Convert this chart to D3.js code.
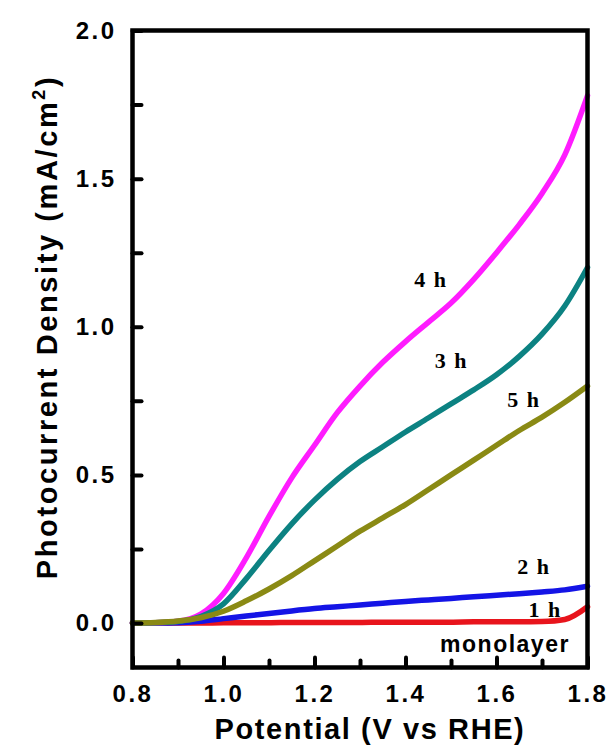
<html>
    <head>
        <title>Photocurrent</title>
        <style>
            body { margin: 0; background: #fff; }
        </style>
    </head>

    <body>
        <script src="https://d3js.org/d3.v7.min.js"></script>
        <script>
            // potential (V vs RHE)
            var potential = [0.80, 0.85, 0.90, 0.95, 1.00, 1.05, 1.10, 1.15, 1.20, 1.25, 1.30,
                             1.35, 1.40, 1.45, 1.50, 1.55, 1.60, 1.65, 1.70, 1.75, 1.80];

            // photocurrent density (mA/cm2)
            var j1h = [0, 0, 0, 0, 0.001, 0.001, 0.001, 0.002, 0.002, 0.002, 0.002,
                       0.003, 0.003, 0.003, 0.003, 0.004, 0.004, 0.004, 0.005, 0.012, 0.055];
            var j2h = [0, 0, 0.001, 0.006, 0.015, 0.024, 0.032, 0.041, 0.049, 0.055, 0.061,
                       0.067, 0.073, 0.078, 0.083, 0.089, 0.094, 0.099, 0.105, 0.112, 0.124];
            var j3h = [0, 0.001, 0.005, 0.022, 0.065, 0.15, 0.245, 0.335, 0.415, 0.485, 0.545,
                       0.595, 0.645, 0.692, 0.74, 0.787, 0.838, 0.90, 0.975, 1.07, 1.20];
            var j4h = [0, 0.001, 0.006, 0.03, 0.10, 0.22, 0.36, 0.49, 0.60, 0.71, 0.80,
                       0.88, 0.95, 1.015, 1.08, 1.16, 1.25, 1.345, 1.45, 1.58, 1.78];
            var j5h = [0, 0.002, 0.007, 0.018, 0.04, 0.075, 0.115, 0.16, 0.21, 0.26, 0.31,
                       0.355, 0.40, 0.45, 0.50, 0.55, 0.60, 0.65, 0.695, 0.745, 0.80];

            var seriesNames = ['1 h', '2 h', '4 h', '3 h', '5 h'];
            var seriesValues = [j1h, j2h, j4h, j3h, j5h];
            var seriesColors = ['#e8141c', '#1414e6', '#ff1cff', '#0c8282', '#8a8a14'];

            var xTicks = [0.8, 1.0, 1.2, 1.4, 1.6, 1.8];
            var xMinorTicks = [0.9, 1.1, 1.3, 1.5, 1.7];
            var yTicks = [0.0, 0.5, 1.0, 1.5, 2.0];
            var yMinorTicks = [0.25, 0.75, 1.25, 1.75];

            var curveLabels = [
                { text: '4 h', x: 1.456, y: 1.134 },
                { text: '3 h', x: 1.501, y: 0.861 },
                { text: '5 h', x: 1.66, y: 0.729 },
                { text: '2 h', x: 1.682, y: 0.165 },
                { text: '1 h', x: 1.707, y: 0.02 }
            ];

            var width = 612, height = 751;
            var plotLeft = 132.5, plotRight = 587.5, plotTop = 30.5, plotBottom = 667.5;

            var svg = d3.select('body')
                .append('svg')
                .attr('width', width)
                .attr('height', height);

            var x = d3.scaleLinear().domain([0.8, 1.8]).range([plotLeft, plotRight]);
            var y = d3.scaleLinear().domain([-0.15, 2.0]).range([plotBottom, plotTop]);

            // curves
            var line = d3.line()
                .x(function(d) { return x(d[0]); })
                .y(function(d) { return y(d[1]); })
                .curve(d3.curveMonotoneX);

            svg.selectAll('path.curve')
                .data(seriesValues)
                .enter()
                .append('path')
                .attr('class', 'curve')
                .attr('d', function(d) {
                    return line(potential.map(function(p, i) { return [p, d[i]]; }));
                })
                .style('fill', 'none')
                .style('stroke', function(d, i) { return seriesColors[i]; })
                .style('stroke-width', 5.5)
                .style('stroke-linecap', 'round');

            // axes
            svg.append('g')
                .attr('transform', 'translate(0,' + plotBottom + ')')
                .call(d3.axisBottom(x).tickValues(xTicks).tickSize(-10).tickPadding(17)
                    .tickFormat(d3.format('.1f')));
            svg.append('g')
                .attr('transform', 'translate(0,' + plotBottom + ')')
                .call(d3.axisBottom(x).tickValues(xMinorTicks).tickSize(-7).tickFormat(''));

            svg.append('g')
                .attr('transform', 'translate(' + plotLeft + ',0)')
                .call(d3.axisLeft(y).tickValues(yTicks).tickSize(-9).tickPadding(16)
                    .tickFormat(d3.format('.1f')));
            svg.append('g')
                .attr('transform', 'translate(' + plotLeft + ',0)')
                .call(d3.axisLeft(y).tickValues(yMinorTicks).tickSize(-9).tickFormat(''));

            svg.selectAll('.domain').remove();
            svg.selectAll('.tick line')
                .style('stroke', '#000')
                .style('stroke-width', 4)
                .style('stroke-linecap', 'round');
            svg.selectAll('.tick text')
                .style('font-family', 'Liberation Sans, Arial, sans-serif')
                .style('font-weight', 'bold')
                .style('font-size', '24px')
                .style('letter-spacing', '2.5px')
                .style('fill', '#000');

            // frame
            svg.append('rect')
                .attr('x', plotLeft)
                .attr('y', plotTop)
                .attr('width', plotRight - plotLeft)
                .attr('height', plotBottom - plotTop)
                .style('fill', 'none')
                .style('stroke', '#000')
                .style('stroke-width', 4.5);

            // axis titles
            svg.append('text')
                .attr('x', 370)
                .attr('y', 739)
                .attr('text-anchor', 'middle')
                .style('font-family', 'Liberation Sans, Arial, sans-serif')
                .style('font-weight', 'bold')
                .style('font-size', '29px')
                .style('letter-spacing', '1.6px')
                .text('Potential (V vs RHE)');

            var yTitle = svg.append('text')
                .attr('transform', 'translate(57,327) rotate(-90)')
                .attr('text-anchor', 'middle')
                .style('font-family', 'Liberation Sans, Arial, sans-serif')
                .style('font-weight', 'bold')
                .style('font-size', '29px')
                .style('letter-spacing', '2.6px');
            yTitle.append('tspan').text('Photocurrent Density (mA/cm');
            yTitle.append('tspan').attr('dy', -12).style('font-size', '18px').text('2');
            yTitle.append('tspan').attr('dy', 12).text(')');

            // curve labels
            svg.selectAll('text.curve-label')
                .data(curveLabels)
                .enter()
                .append('text')
                .attr('class', 'curve-label')
                .attr('x', function(d) { return x(d.x); })
                .attr('y', function(d) { return y(d.y); })
                .attr('text-anchor', 'middle')
                .style('font-family', 'Liberation Serif, Times New Roman, serif')
                .style('font-weight', 'bold')
                .style('font-size', '22px')
                .style('letter-spacing', '1.5px')
                .text(function(d) { return d.text; });

            svg.append('text')
                .attr('x', 505)
                .attr('y', 652)
                .attr('text-anchor', 'middle')
                .style('font-family', 'Liberation Sans, Arial, sans-serif')
                .style('font-weight', 'bold')
                .style('font-size', '23px')
                .style('letter-spacing', '1.5px')
                .text('monolayer');
        </script>
    </body>
</html>
